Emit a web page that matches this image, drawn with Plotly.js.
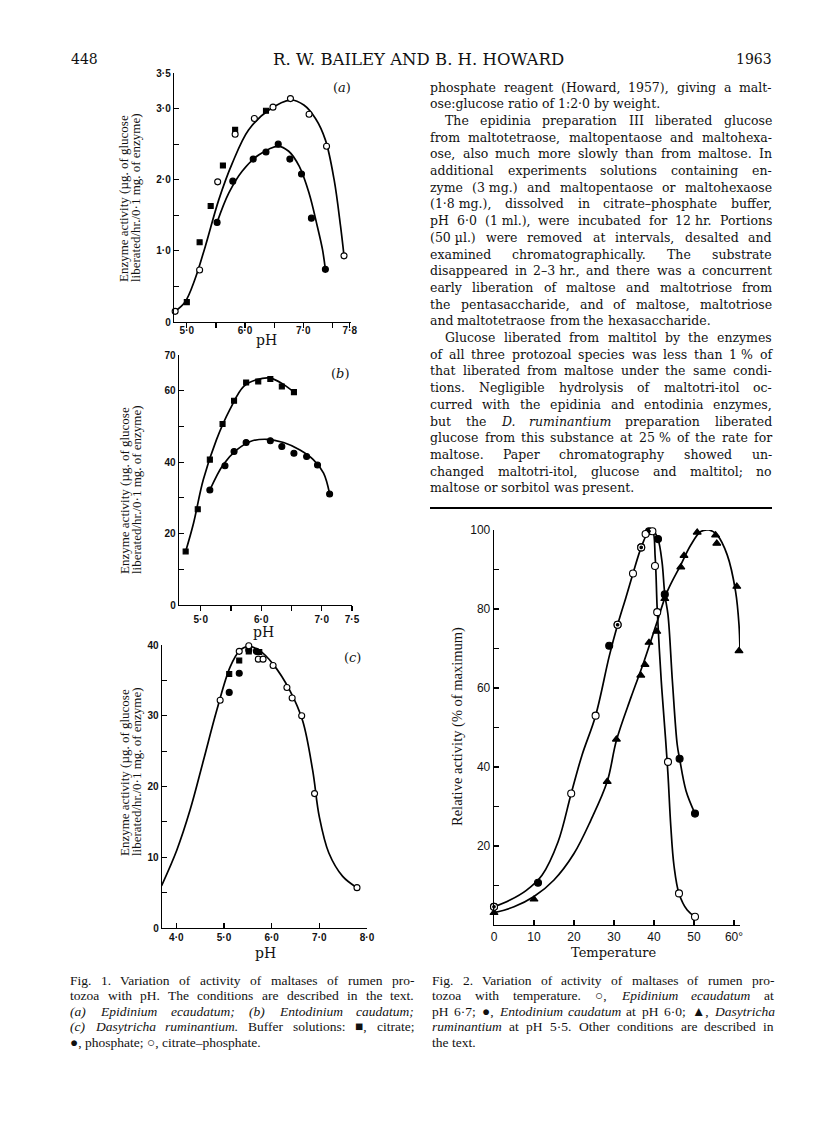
<!DOCTYPE html>
<html>
<head>
<meta charset="utf-8">
<script src="https://cdn.plot.ly/plotly-3.0.1.min.js"></script>
<style>
  html, body { margin: 0; padding: 0; background: #fff; }
  #page { width: 816px; height: 1138px; }
  #overlay { position: absolute; left: 0; top: 0; width: 816px; height: 1138px; }
</style>
</head>
<body>
<div id="page"></div>
<div id="overlay"></div>
<script>
// Fig. 1 (a) Epidinium ecaudatum : pH vs activity
var phA_cp   = [4.80, 5.22, 5.53, 5.83, 6.16, 6.48, 6.78, 7.10, 7.40, 7.70];
var actA_cp  = [0.15, 0.73, 1.97, 2.64, 2.86, 3.02, 3.14, 2.92, 2.47, 0.93];
var phA_cit  = [5.00, 5.22, 5.41, 5.62, 5.83, 6.36];
var actA_cit = [0.28, 1.12, 1.63, 2.20, 2.70, 2.97];
var phA_ph   = [5.52, 5.79, 6.14, 6.36, 6.57, 6.77, 6.97, 7.14, 7.38];
var actA_ph  = [1.40, 1.98, 2.29, 2.39, 2.50, 2.29, 2.08, 1.46, 0.74];
// hand drawn curves (a)
var curveA1_x = [4.80, 4.97, 5.14, 5.32, 5.55, 5.78, 6.06, 6.41, 6.78, 7.01, 7.21, 7.38, 7.53, 7.64, 7.70];
var curveA1_y = [0.15, 0.28, 0.60, 1.07, 1.72, 2.23, 2.70, 2.98, 3.12, 3.05, 2.86, 2.56, 2.00, 1.35, 0.93];
var curveA2_x = [5.52, 5.72, 5.95, 6.24, 6.57, 6.75, 6.93, 7.10, 7.24, 7.33, 7.38];
var curveA2_y = [1.40, 1.81, 2.12, 2.35, 2.47, 2.40, 2.19, 1.81, 1.35, 1.02, 0.74];

// Fig. 1 (b) Entodinium caudatum
var phB_cit  = [4.75, 4.95, 5.15, 5.36, 5.55, 5.75, 5.95, 6.15, 6.34, 6.54];
var actB_cit = [15.0, 26.8, 40.7, 50.7, 57.2, 62.3, 62.6, 63.3, 61.2, 59.6];
var phB_ph   = [5.15, 5.40, 5.55, 5.75, 6.15, 6.34, 6.54, 6.75, 6.93, 7.13];
var actB_ph  = [32.2, 39.0, 43.0, 45.5, 46.0, 44.4, 42.5, 41.6, 39.2, 31.1];
var curveB1_x = [4.75, 4.88, 5.04, 5.26, 5.48, 5.71, 5.93, 6.15, 6.37, 6.54];
var curveB1_y = [15.0, 22.9, 35.0, 46.3, 54.7, 61.2, 63.1, 63.5, 61.7, 59.6];
var curveB2_x = [5.15, 5.37, 5.60, 5.82, 6.09, 6.37, 6.64, 6.86, 7.03, 7.13];
var curveB2_y = [32.2, 39.3, 43.5, 45.8, 46.4, 45.5, 43.4, 40.7, 36.9, 31.1];

// Fig. 1 (c) Dasytricha ruminantium
var phC_cp   = [3.69, 4.92, 5.32, 5.52, 5.72, 5.82, 6.03, 6.32, 6.43, 6.63, 6.90, 7.79];
var actC_cp  = [5.96, 32.2, 39.1, 39.9, 38.0, 38.0, 37.1, 34.0, 32.5, 30.0, 19.0, 5.7];
var phC_cit  = [5.11, 5.32, 5.52, 5.74];
var actC_cit = [35.9, 37.8, 39.1, 39.0];
var phC_ph   = [5.11, 5.32, 5.52, 5.68];
var actC_ph  = [33.3, 36.0, 39.3, 39.1];
var curveC_x = [3.69, 4.01, 4.29, 4.57, 4.85, 5.13, 5.33, 5.52, 5.75, 6.03, 6.38, 6.65, 6.86, 7.00, 7.20, 7.49, 7.79];
var curveC_y = [5.96, 11.0, 16.7, 23.7, 30.8, 36.9, 39.2, 39.8, 39.2, 37.3, 33.6, 29.3, 22.3, 15.7, 10.6, 7.3, 5.7];

// Fig. 2 temperature vs relative activity
var tEpi   = [0, 19.3, 25.4, 30.9, 34.75, 36.8, 37.9, 39.6, 40.25, 40.8, 43.5, 46.25, 50.25];
var relEpi = [4.6, 33.3, 53.0, 76.0, 89.0, 95.6, 99.0, 99.7, 90.9, 79.2, 41.3, 8.0, 2.1];
var tEnt   = [0, 11.0, 28.8, 30.9, 36.8, 38.75, 41.0, 42.7, 46.4, 50.25];
var relEnt = [4.6, 10.7, 70.7, 76.0, 95.6, 99.7, 97.7, 83.7, 42.1, 28.2];
var tDas   = [0, 10, 28.3, 30.6, 36.7, 37.75, 38.75, 40.7, 42.7, 46.7, 47.5, 50.8, 55.4, 55.7, 60.7, 61.25];
var relDas = [3.1, 6.5, 36.3, 47.0, 63.2, 65.9, 71.5, 74.3, 82.6, 90.6, 93.5, 99.4, 98.7, 96.6, 85.7, 69.4];
var curveEpi_x = [0, 4, 8, 12, 16, 19.3, 22, 25.4, 28.8, 30.9, 33, 34.75, 36.8, 38.5, 39.6, 40.3, 40.8, 41.8, 42.9, 43.5, 44.2, 45, 46.25, 48.3, 50.25];
var curveEpi_y = [4.6, 6.3, 8.7, 12.6, 21, 33.3, 43, 53, 68, 76, 83, 89, 95.6, 99.3, 99.8, 93, 80, 62, 47, 38, 25, 15, 8, 3.8, 2.1];
var curveEnt_x = [38.5, 40, 41, 42, 42.7, 43.5, 44.6, 45.8, 46.4, 48, 50.25];
var curveEnt_y = [99.3, 99.5, 97.7, 92, 83.7, 78.5, 61.7, 45.7, 42.1, 34, 28.2];
var curveDas_x = [0, 5, 10, 15, 20, 24.2, 28.3, 30.6, 34.2, 37.5, 40.8, 43.3, 46.7, 49.2, 51.7, 53.75, 55.8, 58.3, 60.4, 61.25, 61.5];
var curveDas_y = [3.1, 4.6, 7.2, 11.4, 18.1, 26.5, 36.3, 46.7, 57.5, 66.7, 76.8, 84.4, 91.2, 96.2, 99.6, 100, 98.7, 93.7, 84.4, 76, 69.4];

// tick labels
var tickA_x = ['5\u00b70', '', '6\u00b70', '', '7\u00b70', '', '7\u00b78'];
var tickA_y = ['0', '', '1\u00b70', '', '2\u00b70', '', '3\u00b70', '3\u00b75'];
var tickB_x = ['5\u00b70', '', '6\u00b70', '', '7\u00b70', '7\u00b75'];
var tickB_y = ['0', '', '20', '', '40', '', '60', '70'];
var tickC_x = ['4\u00b70', '5\u00b70', '6\u00b70', '7\u00b70', '8\u00b70'];
var tickC_y = ['0', '', '10', '', '20', '', '30', '', '40'];
var tick2_x = ['0', '10', '20', '30', '40', '50', '60\u00b0'];
var tick2_y = ['', '', '20', '', '40', '', '60', '', '80', '', '100'];

// page text
var bodyText = [
  'phosphate reagent (Howard, 1957), giving a malt-',
  'ose:glucose ratio of 1:2\u00b70 by weight.',
  'The epidinia preparation III liberated glucose',
  'from maltotetraose, maltopentaose and maltohexa-',
  'ose, also much more slowly than from maltose. In',
  'additional experiments solutions containing en-',
  'zyme (3\u00a0mg.) and maltopentaose or maltohexaose',
  '(1\u00b78\u00a0mg.), dissolved in citrate\u2013phosphate buffer,',
  'pH 6\u00b70 (1\u00a0ml.), were incubated for 12\u00a0hr. Portions',
  '(50\u00a0\u00b5l.) were removed at intervals, desalted and',
  'examined chromatographically. The substrate',
  'disappeared in 2\u20133\u00a0hr., and there was a concurrent',
  'early liberation of maltose and maltotriose from',
  'the pentasaccharide, and of maltose, maltotriose',
  'and maltotetraose from the hexasaccharide.',
  'Glucose liberated from maltitol by the enzymes',
  'of all three protozoal species was less than 1\u00a0% of',
  'that liberated from maltose under the same condi-',
  'tions. Negligible hydrolysis of maltotri-itol oc-',
  'curred with the epidinia and entodinia enzymes,',
  'but the <i>D. ruminantium</i> preparation liberated',
  'glucose from this substance at 25\u00a0% of the rate for',
  'maltose. Paper chromatography showed un-',
  'changed maltotri-itol, glucose and maltitol; no',
  'maltose or sorbitol was present.'
];
var bodyIndent = [2, 15];
var bodyRagged = [1, 14, 24];

var cap1 = [
  'Fig. 1. Variation of activity of maltases of rumen pro-',
  'tozoa with pH. The conditions are described in the text.',
  '(<i>a</i>) <i>Epidinium ecaudatum</i>; (<i>b</i>) <i>Entodinium caudatum</i>;',
  '(<i>c</i>) <i>Dasytricha ruminantium</i>. Buffer solutions: \u25a0, citrate;',
  '\u25cf, phosphate; \u25cb, citrate\u2013phosphate.'
];
var cap2 = [
  'Fig. 2. Variation of activity of maltases of rumen pro-',
  'tozoa with temperature. \u25cb, <i>Epidinium ecaudatum</i> at',
  'pH 6\u00b77; \u25cf, <i>Entodinium caudatum</i> at pH 6\u00b70; \u25b2, <i>Dasytricha</i>',
  '<i>ruminantium</i> at pH 5\u00b75. Other conditions are described in',
  'the text.'
];

var W = 816, H = 1138;
function px(v) { return v / W; }
function py(v) { return 1 - v / H; }

var measure = document.createElement('canvas').getContext('2d');
var notes = [];

// one word per annotation so that lines can be justified like the printed page
function textLine(str, x0, x1, y, size, family, justify) {
  var toks = str.split(' ');
  var ital = false, words = [], total = 0;
  toks.forEach(function (t) {
    if (t.indexOf('<i>') >= 0) ital = true;
    var w = { t: t.replace(/<\/?i>/g, ''), i: ital };
    if (t.indexOf('</i>') >= 0) ital = false;
    measure.font = (w.i ? 'italic ' : '') + size + 'px "' + family + '"';
    w.w = measure.measureText(w.t).width;
    total += w.w;
    words.push(w);
  });
  measure.font = size + 'px "' + family + '"';
  var gap = measure.measureText(' ').width;
  if (justify && words.length > 1) gap = (x1 - x0 - total) / (words.length - 1);
  var x = x0;
  words.forEach(function (w) {
    notes.push({
      xref: 'paper', yref: 'paper', x: px(x - 1), y: py(y),
      xanchor: 'left', yanchor: 'middle', showarrow: false, borderpad: 0,
      text: w.i ? '<i>' + w.t + '</i>' : w.t,
      font: { family: family, size: size, color: '#111' }
    });
    x += w.w + gap;
  });
}

function label(txt, x, y, size, family, xanchor, angle) {
  notes.push({
    xref: 'paper', yref: 'paper', x: px(x), y: py(y),
    xanchor: xanchor || 'center', yanchor: 'middle', showarrow: false,
    textangle: angle || 0, text: txt,
    font: { family: family, size: size, color: '#111' }
  });
}

// header
label('448', 69, 59, 14, 'DejaVu Serif', 'left');
label('R. W. BAILEY AND B. H. HOWARD', 419, 59, 16.5, 'DejaVu Serif');
label('1963', 774, 59, 14, 'DejaVu Serif', 'right');

// right column body text
bodyText.forEach(function (s, i) {
  var ind = bodyIndent.indexOf(i) >= 0 ? 15 : 0;
  textLine(s, 430 + ind, 772, 87 + i * 16.7, 12.5, 'DejaVu Serif', bodyRagged.indexOf(i) < 0);
});

// captions
cap1.forEach(function (s, i) {
  textLine(s, 70, 414, 980 + i * 15.5, 13.5, 'Liberation Serif', i < cap1.length - 1);
});
cap2.forEach(function (s, i) {
  textLine(s, 432, 774, 980 + i * 15.5, 13.5, 'Liberation Serif', i < cap2.length - 1);
});

// axis titles and panel letters
var yt1 = 'Enzyme activity (\u00b5g. of glucose';
var yt2 = 'liberated/hr./0\u00b71 mg. of enzyme)';
[198, 490, 772].forEach(function (c) {
  label(yt1, 124, c, 13, 'Liberation Serif', 'center', -90);
  label(yt2, 136, c, 13, 'Liberation Serif', 'center', -90);
});
label('Relative activity (% of maximum)', 457, 727, 14.5, 'Liberation Serif', 'center', -90);
label('pH', 266, 340, 14, 'DejaVu Serif');
label('pH', 263, 632, 14, 'DejaVu Serif');
label('pH', 265, 953, 14, 'DejaVu Serif');
label('Temperature', 613, 952, 13, 'DejaVu Serif');
label('(<i>a</i>)', 342, 87, 13, 'DejaVu Serif');
label('(<i>b</i>)', 340, 373, 13, 'DejaVu Serif');
label('(<i>c</i>)', 352, 657, 13, 'DejaVu Serif');

// axes
var smallTick = { family: 'Liberation Sans', size: 10, color: '#111', weight: 'bold' };
var bigTick = { family: 'Liberation Sans', size: 12, color: '#111' };
function axis(l, r, anchor, range, vals, text, ticks, font) {
  return {
    domain: [px(l), px(r)], anchor: anchor, range: range,
    tickmode: 'array', tickvals: vals, ticktext: text,
    ticks: ticks, ticklen: 5, tickwidth: 1.2, tickcolor: '#000',
    showline: true, linecolor: '#000', linewidth: 1.3,
    showgrid: false, zeroline: false, tickfont: font, fixedrange: true
  };
}
function yaxis(t, b, anchor, range, vals, text, ticks, font) {
  var a = axis(0, 0, anchor, range, vals, text, ticks, font);
  a.domain = [py(b), py(t)];
  return a;
}

function curve(x, y, xa, ya) {
  return { x: x, y: y, xaxis: xa, yaxis: ya, mode: 'lines', cliponaxis: false,
    line: { color: '#000', width: 1.7, shape: 'spline', smoothing: 1 }, hoverinfo: 'skip' };
}
function dots(x, y, xa, ya, sym, size, fill) {
  return { x: x, y: y, xaxis: xa, yaxis: ya, mode: 'markers', cliponaxis: false,
    marker: { symbol: sym, size: size, color: fill, line: { color: '#000', width: 1.1 } } };
}

var traces = [
  curve(curveA1_x, curveA1_y, 'x', 'y'),
  curve(curveA2_x, curveA2_y, 'x', 'y'),
  curve(curveC_x, curveC_y, 'x3', 'y3'),
  curve(curveEpi_x, curveEpi_y, 'x4', 'y4'),
  curve(curveEnt_x, curveEnt_y, 'x4', 'y4'),
  curve(curveDas_x, curveDas_y, 'x4', 'y4'),

  dots(phA_cit, actA_cit, 'x', 'y', 'square', 5, '#000'),
  dots(phA_ph, actA_ph, 'x', 'y', 'circle', 6, '#000'),
  dots(phA_cp, actA_cp, 'x', 'y', 'circle', 6, '#fff'),
  dots(phB_cit, actB_cit, 'x2', 'y2', 'square', 5, '#000'),
  dots(phB_ph, actB_ph, 'x2', 'y2', 'circle', 6, '#000'),
  dots(phC_cit, actC_cit, 'x3', 'y3', 'square', 5, '#000'),
  dots(phC_ph, actC_ph, 'x3', 'y3', 'circle', 6, '#000'),
  dots(phC_cp, actC_cp, 'x3', 'y3', 'circle', 6, '#fff'),
  dots(tDas, relDas, 'x4', 'y4', 'triangle-up', 7, '#000'),
  dots(tEnt, relEnt, 'x4', 'y4', 'circle', 7, '#000'),
  dots(tEpi, relEpi, 'x4', 'y4', 'circle', 7, '#fff'),
  // small centre dot where an Entodinium point sits under an Epidinium circle
  dots(tEnt, relEnt, 'x4', 'y4', 'circle', 2.5, '#000')
];

var xaA = axis(174, 351, 'y', [4.78, 7.82], [5, 5.5, 6, 6.5, 7, 7.5, 7.8], tickA_x, 'outside', smallTick);
xaA.ticklabelstandoff = -6;
var xaB = axis(179, 352, 'y2', [4.64, 7.5], [5, 5.5, 6, 6.5, 7, 7.5], tickB_x, 'outside', smallTick);
var yaB = yaxis(355, 605, 'x2', [0, 70], [0, 10, 20, 30, 40, 50, 60, 70], tickB_y, 'inside', smallTick);

var layout = {
  width: W, height: H, margin: { l: 0, r: 0, t: 0, b: 0 },
  paper_bgcolor: '#fff', plot_bgcolor: 'rgba(0,0,0,0)', showlegend: false,
  xaxis:  xaA,
  yaxis:  yaxis(73, 322, 'x', [0, 3.5], [0, 0.5, 1, 1.5, 2, 2.5, 3, 3.5], tickA_y, 'inside', smallTick),
  xaxis2: xaB,
  yaxis2: yaB,
  xaxis3: axis(162, 367, 'y3', [3.7, 8.0], [4, 5, 6, 7, 8], tickC_x, 'inside', smallTick),
  yaxis3: yaxis(645, 928, 'x3', [0, 40], [0, 5, 10, 15, 20, 25, 30, 35, 40], tickC_y, 'inside', smallTick),
  xaxis4: axis(494, 740, 'y4', [0, 61.5], [0, 10, 20, 30, 40, 50, 60], tick2_x, 'inside', bigTick),
  yaxis4: yaxis(530, 925, 'x4', [0, 100], [0, 10, 20, 30, 40, 50, 60, 70, 80, 90, 100], tick2_y, 'inside', bigTick),
  annotations: notes,
  shapes: [
    { type: 'line', xref: 'paper', yref: 'paper', x0: px(430), x1: px(772), y0: py(508), y1: py(508),
      line: { color: '#000', width: 2 } }
  ]
};

Plotly.newPlot('page', traces, layout, { staticPlot: true });

// the (b) curves go in a separate transparent plot laid over the page,
// with the same axis domains and ranges as panel (b)
var overlayLayout = {
  width: W, height: H, margin: { l: 0, r: 0, t: 0, b: 0 },
  paper_bgcolor: 'rgba(0,0,0,0)', plot_bgcolor: 'rgba(0,0,0,0)', showlegend: false,
  xaxis: { domain: xaB.domain, range: xaB.range, visible: false, fixedrange: true },
  yaxis: { domain: yaB.domain, range: yaB.range, visible: false, fixedrange: true }
};
Plotly.newPlot('overlay', [
  curve(curveB1_x, curveB1_y, 'x', 'y'),
  curve(curveB2_x, curveB2_y, 'x', 'y')
], overlayLayout, { staticPlot: true });
</script>
</body>
</html>
